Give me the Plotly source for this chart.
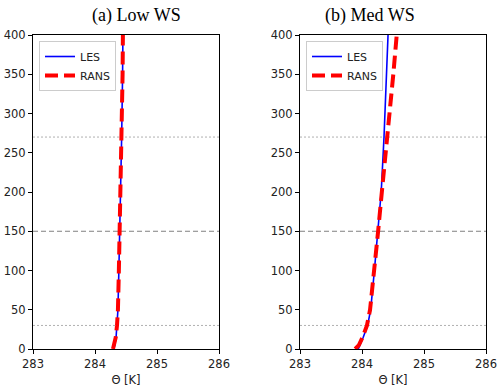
import plotly.graph_objects as go

# Heights (m)
z_low = [0, 5, 15, 30, 50, 100, 150, 200, 270, 350, 400]
les_low = [284.30, 284.32, 284.34, 284.355, 284.37, 284.385, 284.40, 284.415, 284.43, 284.445, 284.45]
rans_low = [284.29, 284.31, 284.335, 284.355, 284.37, 284.385, 284.40, 284.415, 284.43, 284.445, 284.45]

z_med = [0, 5, 15, 30, 50, 100, 150, 200, 270, 350, 400]
les_med = [283.94, 283.97, 284.02, 284.09, 284.14, 284.20, 284.26, 284.31, 284.355, 284.40, 284.42]
rans_med = [283.89, 283.95, 284.01, 284.08, 284.13, 284.20, 284.26, 284.32, 284.41, 284.505, 284.56]

ref_dotted = [30, 270]
ref_dashed = [150]

titles = ["(a) Low WS", "(b) Med WS"]
x_ticks = [283, 284, 285, 286]
y_ticks = [0, 50, 100, 150, 200, 250, 300, 350, 400]

W, H = 500, 391
ML, MR, MT, MB = 33, 14, 35, 42
PW, PH = W - ML - MR, H - MT - MB

def px_x(p):
    return (p - ML) / PW

xdoms = [[0, px_x(219)], [px_x(300), 1]]
ydom = [0, 1]
title_centers = [px_x(136), px_x(369.5)]

fig = go.Figure()
panels = [(z_low, les_low, rans_low), (z_med, les_med, rans_med)]

for i, (z, les, rans) in enumerate(panels):
    xa = "x" if i == 0 else "x2"
    ya = "y" if i == 0 else "y2"
    leg = "legend" if i == 0 else "legend2"
    fig.add_trace(go.Scatter(x=les, y=z, mode="lines", name="LES",
                             line=dict(color="#0000ff", width=1.6),
                             xaxis=xa, yaxis=ya, legend=leg))
    fig.add_trace(go.Scatter(x=rans, y=z, mode="lines", name="RANS",
                             line=dict(color="#ff0000", width=4, dash="13px,6px"),
                             xaxis=xa, yaxis=ya, legend=leg))
    for v in ref_dotted:
        fig.add_shape(type="line", xref=f"{xa} domain", yref=ya, x0=0, x1=1, y0=v, y1=v,
                      line=dict(color="#b0b0b0", width=1, dash="2px,2px"), layer="below")
    for v in ref_dashed:
        fig.add_shape(type="line", xref=f"{xa} domain", yref=ya, x0=0, x1=1, y0=v, y1=v,
                      line=dict(color="#808080", width=1, dash="5px,3px"), layer="below")
    fig.add_annotation(text=titles[i], xref="paper", yref="paper",
                       x=title_centers[i], y=(H - MB - 15) / PH,
                       showarrow=False, xanchor="center", yanchor="middle",
                       font=dict(family="Liberation Serif", size=18, color="black"))

tickfont = dict(family="DejaVu Sans", size=11.5, color="#222")
axis_common = dict(showline=True, linecolor="black", linewidth=1, mirror=True,
                   ticks="outside", ticklen=4, tickcolor="black", showgrid=False,
                   zeroline=False, automargin=False, tickfont=tickfont)
xtitle = dict(text="Θ [K]", font=dict(family="DejaVu Sans", size=11.5, color="#222"), standoff=6)
legfont = dict(family="DejaVu Sans", size=11, color="#222")

fig.update_layout(
    width=W, height=H,
    margin=dict(l=ML, r=MR, t=MT, b=MB, autoexpand=False),
    paper_bgcolor="white", plot_bgcolor="white",
    xaxis=dict(domain=xdoms[0], range=[283, 286], tickvals=x_ticks, anchor="y",
               title=xtitle, **axis_common),
    yaxis=dict(domain=ydom, range=[0, 400], tickvals=y_ticks, anchor="x", **axis_common),
    xaxis2=dict(domain=xdoms[1], range=[283, 286], tickvals=x_ticks, anchor="y2",
                title=xtitle, **axis_common),
    yaxis2=dict(domain=ydom, range=[0, 400], tickvals=y_ticks, anchor="x2", **axis_common),
    legend=dict(x=xdoms[0][0] + 6/PW, y=1 - 6/PH, xanchor="left", yanchor="top",
                bgcolor="rgba(255,255,255,0.8)", bordercolor="#cccccc", borderwidth=1,
                font=legfont, tracegroupgap=0, itemwidth=30),
    legend2=dict(x=xdoms[1][0] + 6/PW, y=1 - 6/PH, xanchor="left", yanchor="top",
                 bgcolor="rgba(255,255,255,0.8)", bordercolor="#cccccc", borderwidth=1,
                 font=legfont, tracegroupgap=0, itemwidth=30),
)

fig.write_html("out.html", config={"displayModeBar": False},
               post_script="document.body.style.margin='0px';document.body.style.overflow='hidden';")
